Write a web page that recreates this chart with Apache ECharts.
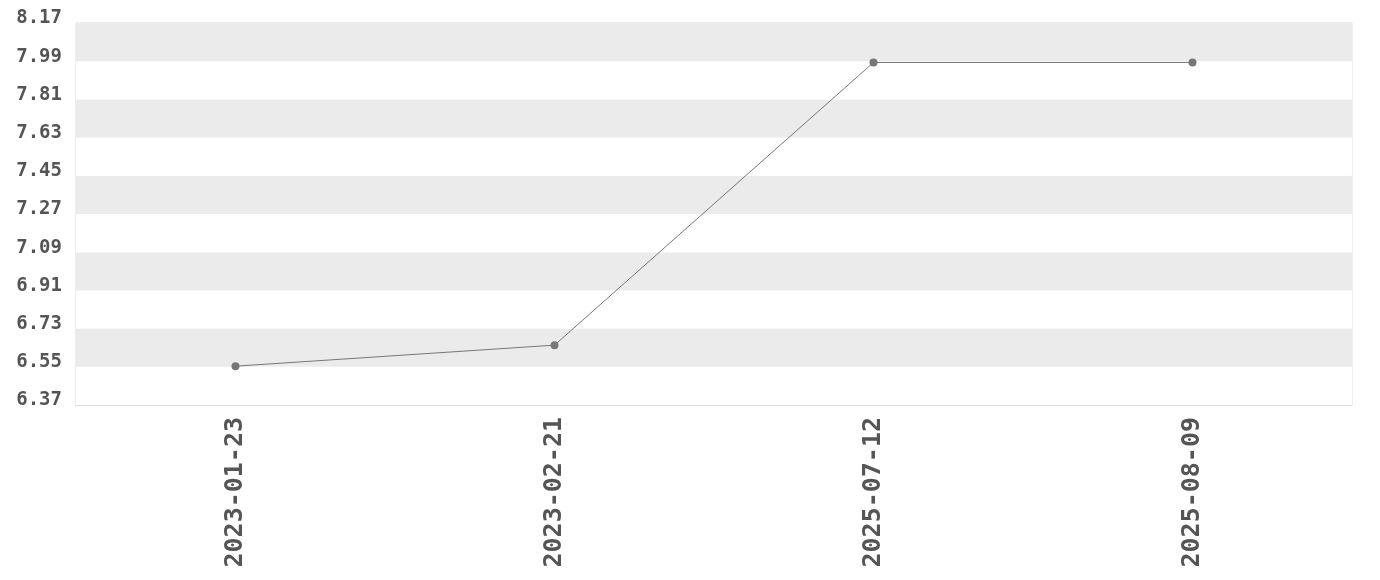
<!DOCTYPE html>
<html>
<head>
<meta charset="utf-8">
<script src="https://cdn.jsdelivr.net/npm/echarts@6/dist/echarts.min.js"></script>
<style>html,body{margin:0;padding:0;background:#fff}#c{width:1380px;height:580px}</style>
</head>
<body>
<div id="c"></div>
<script>
var categories = ['2023-01-23', '2023-02-21', '2025-07-12', '2025-08-09'];
var values = [6.553, 6.652, 7.984, 7.984];
var yMin = 6.37, yMax = 8.17, yStep = 0.18;

var chart = echarts.init(document.getElementById('c'), null, {renderer: 'canvas'});
chart.setOption({
  animation: false,
  grid: {left: 76, right: 28, top: 23, bottom: 175, show: true, borderColor: '#dddddd', borderWidth: 1, containLabel: false},
  xAxis: {
    type: 'category', data: categories, boundaryGap: true,
    axisLine: {show: true, lineStyle: {color: '#dddddd'}},
    axisTick: {show: false},
    axisLabel: {rotate: 90, margin: 12, interval: 0, fontFamily: 'DejaVu Sans Mono', fontWeight: 'bold', fontSize: 25, color: '#555'},
    splitLine: {show: false}
  },
  yAxis: {
    type: 'value', min: yMin, max: yMax, interval: yStep,
    axisLine: {show: false}, axisTick: {show: false},
    axisLabel: {margin: 14, verticalAlign: 'bottom', lineHeight: 9, fontFamily: 'DejaVu Sans Mono', fontWeight: 'bold', fontSize: 19, color: '#555',
      formatter: function (v) { return v.toFixed(2); }},
    splitLine: {show: false},
    splitArea: {show: true, areaStyle: {color: ['#ffffff', '#ebebeb']}}
  },
  series: [{
    type: 'line', data: values, symbol: 'circle', symbolSize: 8,
    lineStyle: {color: '#777777', width: 1},
    itemStyle: {color: '#777777'}
  }]
});
</script>
</body>
</html>
